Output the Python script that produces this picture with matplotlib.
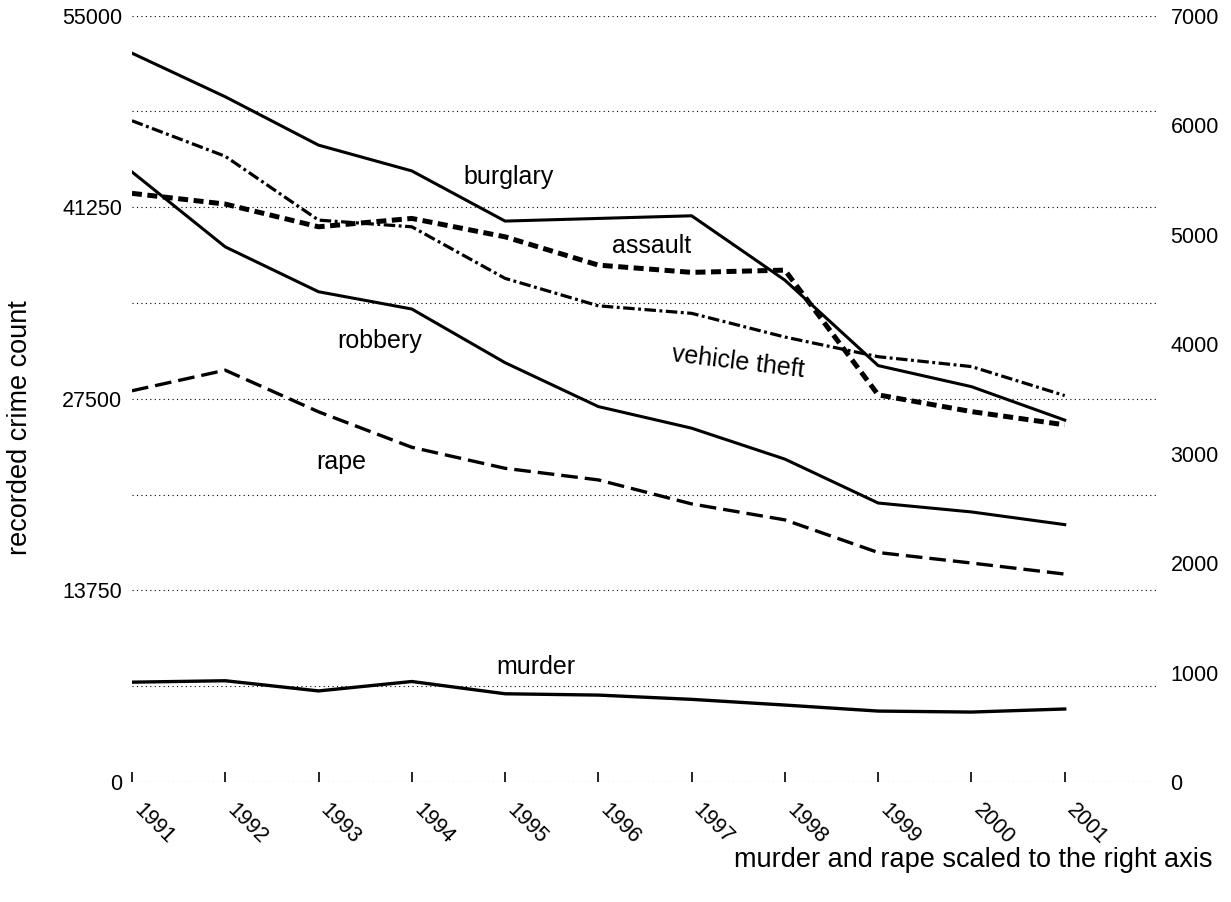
import matplotlib
matplotlib.use("Agg")
import matplotlib.pyplot as plt
import matplotlib.transforms as mtransforms

plt.rcParams['font.family'] = ['Liberation Sans', 'DejaVu Sans']

# --- данные ---
years = [1991, 1992, 1993, 1994, 1995, 1996, 1997, 1998, 1999, 2000, 2001]
burglary = [52300, 49170, 45700, 43850, 40250, 40440, 40630, 36010, 29880, 28370, 25970]
vehicle_theft = [47450, 44900, 40320, 39840, 36140, 34170, 33630, 31930, 30520, 29810, 27730]
assault = [42240, 41470, 39840, 40440, 39120, 37090, 36570, 36730, 27780, 26580, 25630]
robbery = [43780, 38400, 35180, 33940, 30090, 26940, 25390, 23170, 20020, 19380, 18470]
# правая ось
rape = [3573, 3761, 3381, 3057, 2865, 2759, 2540, 2394, 2096, 2000, 1899]
murder = [912, 925, 832, 918, 806, 794, 755, 703, 648, 639, 667]

left_ticks = [0, 13750, 27500, 41250, 55000]
left_grid = [0, 6875, 13750, 20625, 27500, 34375, 41250, 48125, 55000]
right_ticks = [0, 1000, 2000, 3000, 4000, 5000, 6000, 7000]

fig = plt.figure(figsize=(12.31, 9.02), dpi=100)
ax = fig.add_axes([0.1072, 0.1330, 0.8335, 0.8498])
ax2 = ax.twinx()

ax.set_xlim(1991, 2002)
ax.set_ylim(0, 55000)
ax2.set_ylim(0, 7000)

# линии
ax.plot(years, burglary, color='black', lw=2.2)
ax.plot(years, robbery, color='black', lw=2.2)
ax.plot(years, vehicle_theft, color='black', lw=2.3, linestyle=(0, (3.6, 1.1, 0.9, 1.1)))
ax.plot(years, assault, color='black', lw=3.6, linestyle=(0, (2, 1.1)))
ax2.plot(years, rape, color='black', lw=2.4, linestyle=(0, (5, 2.1)))
ax2.plot(years, murder, color='black', lw=2.4)

# сетка
ax.set_yticks(left_ticks)
ax.set_yticks(left_grid, minor=True)
ax.grid(which='both', axis='y', color='black', lw=0.8, linestyle=(0, (1, 3)))
ax.set_axisbelow(True)
ax.tick_params(axis='y', which='both', length=0, labelsize=15.5, pad=7)
ax.set_yticklabels([str(t) for t in left_ticks])

ax2.set_yticks(right_ticks)
ax2.tick_params(axis='y', length=0, labelsize=15.5, pad=9)

ax.set_xticks(years)
ax.tick_params(axis='x', direction='in', length=7, width=1.2, color='black', pad=18)
ax.set_xticklabels([str(y) for y in years], rotation=-45, ha='left', va='center',
                   rotation_mode='anchor', fontsize=15.5)
shift = mtransforms.ScaledTranslation(5 / 100, 0, fig.dpi_scale_trans)
for lbl in ax.get_xticklabels():
    lbl.set_transform(lbl.get_transform() + shift)

for a in (ax, ax2):
    for s in a.spines.values():
        s.set_visible(False)

# подписи серий
ax.text(1995.04, 43400, 'burglary', fontsize=18, ha='center', va='center')
ax.text(1996.57, 38460, 'assault', fontsize=18, ha='center', va='center')
ax.text(1997.5, 30130, 'vehicle theft', fontsize=18, ha='center', va='center', rotation=-7)
ax.text(1993.66, 31640, 'robbery', fontsize=18, ha='center', va='center')
ax.text(1993.24, 22960, 'rape', fontsize=18, ha='center', va='center')
ax.text(1995.33, 8250, 'murder', fontsize=18, ha='center', va='center')

fig.text(0.0162, 0.5255, 'recorded crime count', rotation=90, fontsize=19.5,
         ha='center', va='center')
fig.text(0.985, 0.0466, 'murder and rape scaled to the right axis', fontsize=19.5,
         ha='right', va='center')

fig.savefig('out.png', dpi=100)
